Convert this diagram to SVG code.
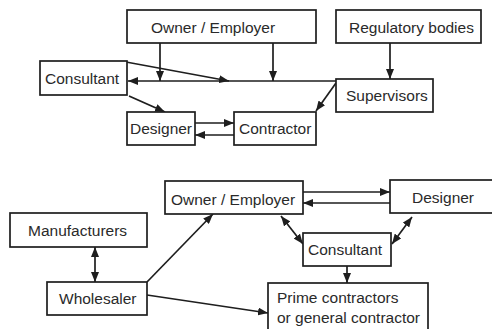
<svg xmlns="http://www.w3.org/2000/svg" width="492" height="329" viewBox="0 0 492 329">
<defs>
<style>
.box{fill:#fff;stroke:#1e1e1e;stroke-width:1.7}
.lbl{font-family:"Liberation Sans",Arial,sans-serif;font-size:15.5px;fill:#2a2a2a}
.c line{stroke:#1e1e1e;stroke-width:1.7;fill:none}
</style>
<marker id="ah" viewBox="0 0 10 8" refX="10" refY="4" markerWidth="10" markerHeight="8" markerUnits="userSpaceOnUse" orient="auto-start-reverse">
<path d="M0,0 L10,4 L0,8 z" fill="#1e1e1e"/>
</marker>
</defs>
<rect width="492" height="329" fill="#fff"/>
<g class="c" id="connectors">
<line x1="336" y1="81" x2="128" y2="81" marker-end="url(#ah)"/>
<line x1="160" y1="43" x2="160" y2="81" marker-end="url(#ah)"/>
<line x1="273" y1="43" x2="273" y2="81" marker-end="url(#ah)"/>
<line x1="390" y1="43" x2="390" y2="79" marker-end="url(#ah)"/>
<line x1="126" y1="62" x2="229" y2="81" marker-end="url(#ah)"/>
<line x1="129" y1="96" x2="165" y2="112" marker-end="url(#ah)"/>
<line x1="195" y1="123" x2="234" y2="123" marker-end="url(#ah)"/>
<line x1="234" y1="135" x2="195" y2="135" marker-end="url(#ah)"/>
<line x1="336" y1="83" x2="316" y2="111" marker-end="url(#ah)"/>
<line x1="95" y1="247" x2="95" y2="282" marker-start="url(#ah)" marker-end="url(#ah)"/>
<line x1="147" y1="282" x2="213" y2="214" marker-end="url(#ah)"/>
<line x1="147" y1="295" x2="268" y2="313" marker-end="url(#ah)"/>
<line x1="303" y1="192" x2="390" y2="192" marker-end="url(#ah)"/>
<line x1="390" y1="203" x2="303" y2="203" marker-end="url(#ah)"/>
<line x1="281" y1="216" x2="303" y2="244" marker-start="url(#ah)" marker-end="url(#ah)"/>
<line x1="412" y1="217" x2="392" y2="244" marker-start="url(#ah)" marker-end="url(#ah)"/>
<line x1="347" y1="266" x2="347" y2="283" marker-end="url(#ah)"/>
</g>
<g id="owner1"><rect class="box" x="127" y="10" width="189" height="33"/><text class="lbl" x="151" y="32.5">Owner / Employer</text></g>
<g id="regulatory"><rect class="box" x="336" y="10" width="145" height="33"/><text class="lbl" x="349" y="32.5">Regulatory bodies</text></g>
<g id="consultant1"><rect class="box" x="40" y="61" width="87" height="34"/><text class="lbl" x="45" y="84">Consultant</text></g>
<g id="supervisors"><rect class="box" x="336" y="79" width="97" height="33"/><text class="lbl" x="346" y="100.5">Supervisors</text></g>
<g id="designer1"><rect class="box" x="127" y="112" width="68" height="33"/><text class="lbl" x="130" y="133.5">Designer</text></g>
<g id="contractor"><rect class="box" x="234" y="112" width="82" height="33"/><text class="lbl" x="239" y="133.5">Contractor</text></g>
<g id="owner2"><rect class="box" x="165" y="181" width="138" height="33"/><text class="lbl" x="171" y="204.5">Owner / Employer</text></g>
<g id="designer2"><rect class="box" x="390" y="180" width="110" height="33"/><text class="lbl" x="412" y="202.5">Designer</text></g>
<g id="manufacturers"><rect class="box" x="10" y="213" width="137" height="34"/><text class="lbl" x="28" y="235.5">Manufacturers</text></g>
<g id="wholesaler"><rect class="box" x="47" y="282" width="100" height="33"/><text class="lbl" x="59" y="303.5">Wholesaler</text></g>
<g id="consultant2"><rect class="box" x="303" y="233" width="88" height="33"/><text class="lbl" x="308" y="255">Consultant</text></g>
<g id="prime"><rect class="box" x="268" y="283" width="160" height="60"/><text class="lbl" x="277" y="303">Prime contractors</text><text class="lbl" x="277" y="323">or general contractor</text></g>
</svg>
